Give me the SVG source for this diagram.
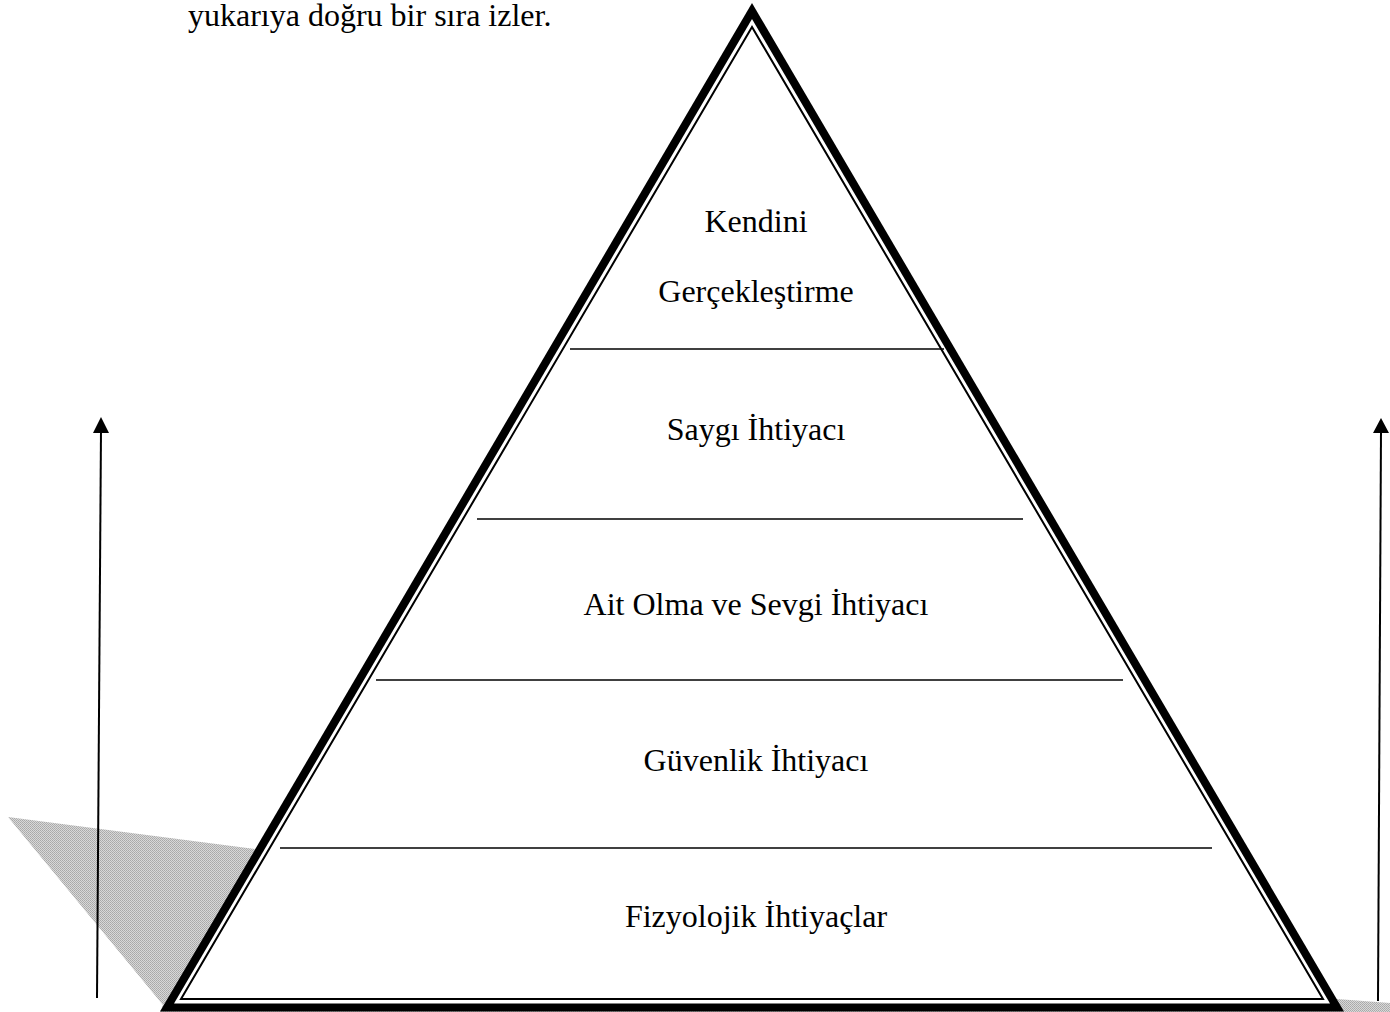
<svg xmlns="http://www.w3.org/2000/svg" width="1390" height="1012" viewBox="0 0 1390 1012">
<defs>
<pattern id="dots" width="2" height="2" patternUnits="userSpaceOnUse">
<rect width="2" height="2" fill="#d8d8d8"/>
<rect width="1" height="1" fill="#a8a8a8"/>
<rect x="1" y="1" width="1" height="1" fill="#b0b0b0"/>
</pattern>
<style>
.t{font-family:"Liberation Serif","Times New Roman",serif;font-size:32px;fill:#000;text-anchor:middle}
.div{stroke:#000;stroke-width:1.6}
.ar{stroke:#000;stroke-width:2;fill:none}
.hd{fill:#000}
</style>
</defs>
<rect width="1390" height="1012" fill="#fff"/>
<text x="188" y="26" style="font-family:'Liberation Serif','Times New Roman',serif;font-size:32px">yukarıya doğru bir sıra izler.</text>
<g id="shadow">
<polygon points="8,817 255,849 1337,999 1390,1003 1390,1012 160,1012 163,1005" fill="url(#dots)"/>
</g>
<g id="pyramid">
<polygon points="752,3 160,1011.5 1344,1011.5" fill="#000"/>
<polygon points="752,19 174,1003.5 1330,1003.5" fill="#fff"/>
<polygon points="752,27 181,999 1323,999" fill="none" stroke="#000" stroke-width="2"/>
</g>
<g id="connectors">
<line class="div" x1="570" y1="349" x2="944" y2="349"/>
<line class="div" x1="477" y1="519" x2="1023" y2="519"/>
<line class="div" x1="376" y1="680" x2="1123" y2="680"/>
<line class="div" x1="280" y1="848" x2="1212" y2="848"/>
<line class="ar" x1="97" y1="998" x2="101" y2="430"/>
<polygon class="hd" points="101,417 93,433 109,433"/>
<line class="ar" x1="1378" y1="1001" x2="1381" y2="430"/>
<polygon class="hd" points="1381,418 1373,433 1389,433"/>
</g>
<g id="level5"><text class="t" x="756" y="232">Kendini</text><text class="t" x="756" y="302">Gerçekleştirme</text></g>
<g id="level4"><text class="t" x="756" y="440">Saygı İhtiyacı</text></g>
<g id="level3"><text class="t" x="756" y="615">Ait Olma ve Sevgi İhtiyacı</text></g>
<g id="level2"><text class="t" x="756" y="771">Güvenlik İhtiyacı</text></g>
<g id="level1"><text class="t" x="756" y="927">Fizyolojik İhtiyaçlar</text></g>
</svg>
